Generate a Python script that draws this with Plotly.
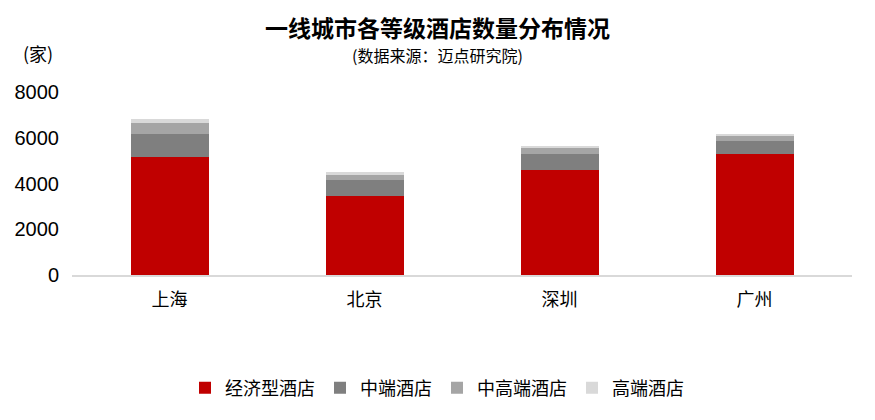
import plotly.graph_objects as go

cities = ["上海", "北京", "深圳", "广州"]
economy = [5180, 3440, 4570, 5310]
midscale = [1000, 700, 700, 560]
upper_mid = [480, 220, 300, 220]
luxury = [170, 130, 90, 45]

series_names = ["经济型酒店", "中端酒店", "中高端酒店", "高端酒店"]
colors = ["#C00000", "#7F7F7F", "#A5A5A5", "#D9D9D9"]
y_ticks = [0, 2000, 4000, 6000, 8000]

title_text = "一线城市各等级酒店数量分布情况"
subtitle_text = "(数据来源：迈点研究院)"
unit_text = "(家)"

font = "Noto Sans CJK SC"
W, H = 875, 420
L, R, T, B = 64, 31, 84, 153

fig = go.Figure()
for name, vals, c in zip(series_names, [economy, midscale, upper_mid, luxury], colors):
    fig.add_trace(go.Bar(x=cities, y=vals, name=name, marker=dict(color=c, line=dict(width=0)),
                         width=0.4, hoverinfo="x+y+name"))

plot_h = H - T - B
plot_w = W - L - R
def py(ypix):
    return (H - B - ypix) / plot_h
def px(xpix):
    return (xpix - L) / plot_w

fig.update_layout(
    barmode="stack",
    width=W, height=H,
    paper_bgcolor="white", plot_bgcolor="white",
    margin=dict(l=L, r=R, t=T, b=B, autoexpand=False),
    font=dict(family=font, color="#000000"),
    showlegend=True,
    legend=dict(orientation="h", x=px(429), xanchor="center", y=py(380), yanchor="middle",
                font=dict(size=18, family=font), traceorder="normal",
                itemwidth=30, tracegroupgap=0),
    xaxis=dict(showline=True, linecolor="#D9D9D9", linewidth=1.5, ticks="",
               tickfont=dict(size=18, family=font), showgrid=False, ticklabelstandoff=8),
    yaxis=dict(range=[0, 8000], tickvals=y_ticks, showgrid=False, zeroline=False,
               showline=False, tickfont=dict(size=20, family="Liberation Sans"), ticks="",
               ticklabelstandoff=12),
    bargap=0.6,
    annotations=[
        dict(text=f"<b>{title_text}</b>", xref="paper", yref="paper",
             x=px(429), y=py(19), xanchor="center", yanchor="middle", showarrow=False,
             font=dict(size=23, family=font)),
        dict(text=subtitle_text, xref="paper", yref="paper",
             x=px(429), y=py(47), xanchor="center", yanchor="middle", showarrow=False,
             font=dict(size=16, family=font)),
        dict(text=unit_text, xref="paper", yref="paper", showarrow=False,
             x=px(30), y=py(45), xanchor="center", yanchor="middle",
             font=dict(size=18, family=font)),
    ],
)

fig.write_html("out.html")
